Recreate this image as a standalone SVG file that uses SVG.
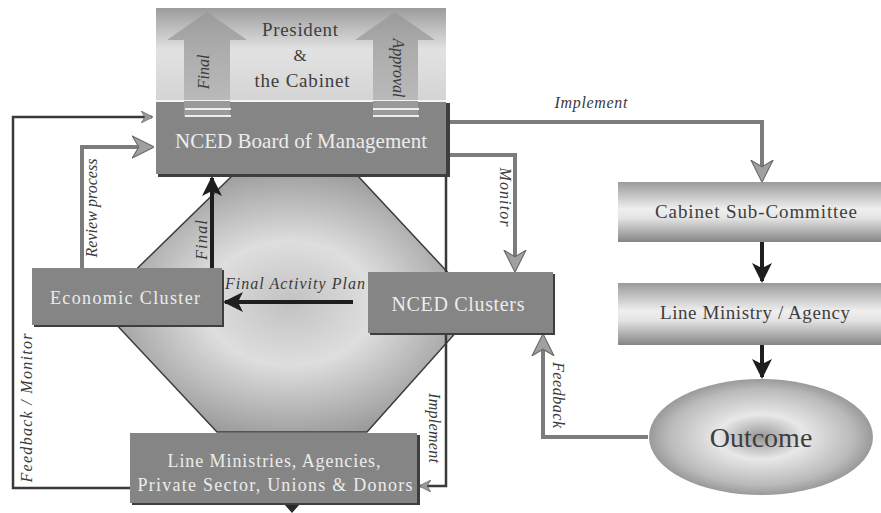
<svg xmlns="http://www.w3.org/2000/svg" width="881" height="513" viewBox="0 0 881 513">
<defs>
<linearGradient id="presG" x1="0" y1="0" x2="0" y2="1">
<stop offset="0" stop-color="#9c9c9c"/>
<stop offset="0.45" stop-color="#e2e2e2"/>
<stop offset="1" stop-color="#d4d4d4"/>
</linearGradient>
<linearGradient id="cylG" x1="0" y1="0" x2="0" y2="1">
<stop offset="0" stop-color="#9a9a9a"/>
<stop offset="0.45" stop-color="#efefef"/>
<stop offset="0.6" stop-color="#e4e4e4"/>
<stop offset="1" stop-color="#858585"/>
</linearGradient>
<linearGradient id="arrG" x1="0" y1="0" x2="0" y2="1">
<stop offset="0" stop-color="#9a9a9a"/>
<stop offset="1" stop-color="#bcbcbc"/>
</linearGradient>
<radialGradient id="octG" cx="0.5" cy="0.5" r="0.6">
<stop offset="0" stop-color="#c2c2c2"/>
<stop offset="0.4" stop-color="#dedede"/>
<stop offset="1" stop-color="#8c8c8c"/>
</radialGradient>
<radialGradient id="ovalG" cx="0.5" cy="0.5" r="0.55">
<stop offset="0" stop-color="#969696"/>
<stop offset="0.35" stop-color="#e8e8e8"/>
<stop offset="0.75" stop-color="#bababa"/>
<stop offset="1" stop-color="#878787"/>
</radialGradient>
<marker id="mGray" viewBox="0 0 20 20" refX="18" refY="10" markerWidth="22" markerHeight="24" markerUnits="userSpaceOnUse" orient="auto">
<path d="M0,0 L20,10 L0,20 L6,10 z" fill="#a0a0a0" stroke="#6a6a6a" stroke-width="1"/>
</marker>
<marker id="mGraySm" viewBox="0 0 20 20" refX="18" refY="10" markerWidth="12" markerHeight="12" markerUnits="userSpaceOnUse" orient="auto">
<path d="M0,0 L20,10 L0,20 L6,10 z" fill="#999" stroke="#555" stroke-width="1"/>
</marker>
<marker id="mBlack" viewBox="0 0 20 20" refX="18" refY="10" markerWidth="20" markerHeight="22" markerUnits="userSpaceOnUse" orient="auto">
<path d="M0,0 L20,10 L0,20 L5,10 z" fill="#1e1e1e"/>
</marker>
</defs>
<style>
.box{fill:#858585;}
.shadow{fill:#3e3e3e;}
.wt{font-family:"Liberation Serif",serif;fill:#ececec;text-anchor:middle;}
.dt{font-family:"Liberation Serif",serif;fill:#3e3e3e;text-anchor:middle;}
.lab{font-family:"Liberation Serif",serif;font-style:italic;fill:#3a3a3a;text-anchor:middle;font-size:16px;}
.gray{fill:none;stroke:#7c7c7c;stroke-width:4;}
.dark{fill:none;stroke:#3a3a3a;stroke-width:2.5;}
.blk{fill:none;stroke:#1e1e1e;stroke-width:4;}
</style>
<rect width="881" height="513" fill="#ffffff"/>

<g id="octagon">
<polygon points="233,175 357,175 467,293 467,320 367,432 217,432 112,320 112,293" fill="url(#octG)" stroke="#3c3c3c" stroke-width="1.5"/>
</g>

<g id="connectors">
<path class="dark" d="M130,488 H13 V117 H152" marker-end="url(#mGraySm)"/>
<path class="gray" d="M82,268 V147 H152" marker-end="url(#mGray)"/>
<path class="blk" d="M212,268 V178" stroke-width="3.5" marker-end="url(#mBlack)"/>
<path class="blk" d="M353,302 H225" marker-end="url(#mBlack)"/>
<path class="gray" d="M448,155 H515 V270" marker-end="url(#mGray)"/>
<path class="dark" d="M446,175 V486 H420" marker-end="url(#mGraySm)"/>
<path class="gray" d="M448,122 H762 V180" stroke-width="5" marker-end="url(#mGray)"/>
<path class="blk" d="M762,242 V281" stroke-width="5" marker-end="url(#mBlack)"/>
<path class="blk" d="M762,345 V377" stroke-width="5" marker-end="url(#mBlack)"/>
<path class="gray" d="M648,437 H543 V336" marker-end="url(#mGray)"/>
<path d="M284,504 L300,504 L292,513 z" fill="#2a2a2a"/>
<text class="lab" x="591" y="108" textLength="73">Implement</text>
<text class="lab" transform="translate(500,197) rotate(90)" textLength="59">Monitor</text>
<text class="lab" transform="translate(97,208) rotate(-90)" textLength="99">Review process</text>
<text class="lab" transform="translate(207,240) rotate(-90)" textLength="40">Final</text>
<text class="lab" x="295" y="289" font-size="17" textLength="140">Final Activity Plan</text>
<text class="lab" transform="translate(32,408) rotate(-90)" font-size="17" textLength="149">Feedback / Monitor</text>
<text class="lab" transform="translate(429,428) rotate(90)" textLength="70">Implement</text>
<text class="lab" transform="translate(553,395) rotate(90)" textLength="66">Feedback</text>
</g>

<g id="president">
<rect x="156" y="8" width="290" height="93" fill="url(#presG)"/>
<polygon points="207,12 247,40 230,40 230,117 184,117 184,40 167,40" fill="url(#arrG)" opacity="0.9"/>
<polygon points="395,12 435,40 418,40 418,117 373,117 373,40 355,40" fill="url(#arrG)" opacity="0.9"/>
<text class="dt" x="300" y="36" font-size="19" textLength="76">President</text>
<text class="dt" x="300" y="61" font-size="17">&amp;</text>
<text class="dt" x="302" y="87" font-size="19" textLength="95">the Cabinet</text>
<text class="lab" transform="translate(209,72) rotate(-90)" font-size="14">Final</text>
<text class="lab" transform="translate(393,68) rotate(90)" font-size="14">Approval</text>
</g>

<g id="board">
<rect class="shadow" x="158" y="103" width="292" height="74"/>
<rect class="box" x="156" y="101" width="290" height="73"/>
<line x1="156" y1="101" x2="446" y2="101" stroke="#f4f4f4" stroke-width="2"/>
<rect x="184" y="101" width="46" height="16" fill="#9a9a9a"/>
<rect x="373" y="101" width="45" height="16" fill="#9a9a9a"/>
<line x1="185" y1="109" x2="231" y2="109" stroke="#eeeeee" stroke-width="2"/>
<line x1="185" y1="116" x2="231" y2="116" stroke="#eeeeee" stroke-width="2"/>
<line x1="373" y1="109" x2="419" y2="109" stroke="#eeeeee" stroke-width="2"/>
<line x1="373" y1="116" x2="419" y2="116" stroke="#eeeeee" stroke-width="2"/>
<text class="wt" x="301" y="148" font-size="21" textLength="252">NCED Board of Management</text>
</g>

<g id="economic-cluster">
<rect class="shadow" x="34" y="270" width="190" height="57"/>
<rect class="box" x="32" y="268" width="190" height="57"/>
<text class="wt" x="125" y="304" font-size="18" textLength="150">Economic Cluster</text>
</g>

<g id="nced-clusters">
<rect class="shadow" x="370" y="274" width="185" height="61"/>
<rect class="box" x="368" y="272" width="185" height="61"/>
<text class="wt" x="458" y="311" font-size="20" textLength="133">NCED Clusters</text>
</g>

<g id="line-ministries">
<rect class="shadow" x="132" y="435" width="288" height="70"/>
<rect class="box" x="130" y="433" width="287" height="70"/>
<text class="wt" x="274" y="467" font-size="18" textLength="213">Line Ministries, Agencies,</text>
<text class="wt" x="275" y="491" font-size="18" textLength="275">Private Sector, Unions &amp; Donors</text>
</g>

<g id="cabinet-sub-committee">
<rect x="618" y="182" width="263" height="60" fill="url(#cylG)"/>
<text class="dt" x="756" y="218" font-size="19" textLength="202">Cabinet Sub-Committee</text>
</g>

<g id="line-ministry-agency">
<rect x="618" y="283" width="263" height="62" fill="url(#cylG)"/>
<text class="dt" x="755" y="319" font-size="19" textLength="190">Line Ministry / Agency</text>
</g>

<g id="outcome">
<ellipse cx="761" cy="437" rx="112" ry="58" fill="url(#ovalG)"/>
<text class="dt" x="761" y="447" font-size="28" fill="#404040">Outcome</text>
</g>
</svg>
